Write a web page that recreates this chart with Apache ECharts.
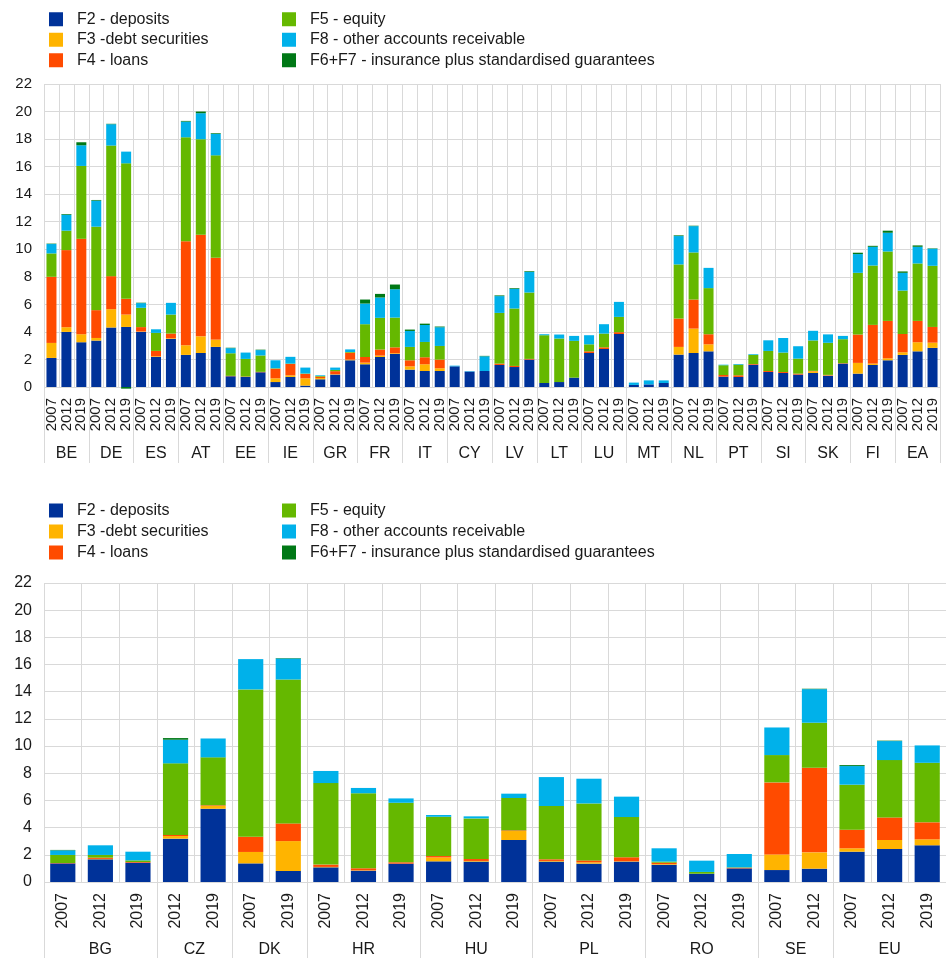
<!DOCTYPE html>
<html><head><meta charset="utf-8">
<script src="https://cdn.jsdelivr.net/npm/echarts@6/dist/echarts.min.js"></script>
<style>html,body{margin:0;padding:0;background:#fff}#c{width:946px;height:967px}</style>
</head><body><div id="c"></div>
<script>
const seriesNames = ['F2 - deposits','F3 -debt securities','F4 - loans','F5 - equity','F8 - other accounts receivable','F6+F7 - insurance plus standardised guarantees'];
const seriesColors = ['#003299','#ffb400','#ff4b00','#65b800','#00b1ea','#007816'];
const yTicks = [0,2,4,6,8,10,12,14,16,18,20,22];

// ---- Top panel (euro area countries) ----
const topGroups = ['BE','DE','ES','AT','EE','IE','GR','FR','IT','CY','LV','LT','LU','MT','NL','PT','SI','SK','FI','EA'];
const topYears = ['2007','2012','2019'];
const topDeposits = [2.11,4.0,3.25, 3.37,4.32,4.36, 4.0,2.18,3.49, 2.33,2.47,2.91, 0.78,0.73,1.07, 0.36,0.73,0.1, 0.56,0.9,1.94, 1.65,2.18,2.4, 1.26,1.16,1.16, 1.5,1.12,1.16, 1.6,1.45,1.99, 0.29,0.36,0.68, 2.47,2.76,3.85, 0.15,0.19,0.29, 2.35,2.47,2.59, 0.75,0.73,1.62, 1.09,1.02,0.9, 1.02,0.82,1.7, 0.97,1.6,1.94, 2.33,2.59,2.84];
const topDebt = [1.09,0.34,0.58, 0.19,1.33,0.9, 0.03,0.05,0.05, 0.7,1.21,0.53, 0,0,0, 0.27,0.12,0.53, 0.09,0.03,0.05, 0.12,0.1,0.05, 0.24,0.49,0.2, 0,0,0, 0,0,0, 0,0,0, 0,0,0, 0,0,0, 0.56,1.77,0.51, 0,0,0, 0,0,0, 0.12,0.03,0, 0.78,0.1,0.14, 0.19,0.66,0.38];
const topLoans = [4.8,5.6,6.93, 2.02,2.4,1.14, 0.32,0.39,0.34, 7.56,7.37,5.94, 0.03,0.03,0.03, 0.7,0.82,0.32, 0.1,0.22,0.5, 0.41,0.44,0.43, 0.44,0.51,0.63, 0,0,0, 0.1,0.08,0.05, 0,0,0, 0.12,0.12,0.13, 0,0,0, 2.06,2.11,0.73, 0.12,0.12,0.05, 0.07,0.07,0.07, 0.03,0.03,0.03, 2.06,2.81,2.72, 1.33,1.55,1.14];
const topEquity = [1.7,1.41,5.29, 6.06,9.48,9.84, 1.4,1.31,1.38, 7.54,6.94,7.44, 1.64,1.28,1.19, 0.03,0.03,0.03, 0.05,0.09,0.05, 2.38,2.3,2.16, 0.97,1.11,0.99, 0,0,0, 3.68,4.17,4.82, 3.47,3.16,2.67, 0.51,1.0,1.11, 0,0,0, 3.93,3.42,3.35, 0.71,0.77,0.66, 1.46,1.41,1.09, 2.21,2.33,1.74, 4.48,4.31,5.04, 3.15,4.17,4.44];
const topOther = [0.68,1.16,1.5, 1.89,1.55,0.85, 0.34,0.26,0.85, 1.14,1.89,1.56, 0.37,0.46,0.39, 0.58,0.49,0.43, 0.05,0.17,0.19, 1.5,1.48,2.06, 1.16,1.23,1.36, 0.05,0.03,1.07, 1.22,1.43,1.5, 0.07,0.29,0.36, 0.66,0.68,1.09, 0.17,0.29,0.19, 2.06,1.91,1.47, 0.04,0.05,0.05, 0.77,1.06,0.9, 0.7,0.61,0.24, 1.36,1.36,1.36, 1.29,1.21,1.24];
const topInsurance = [0.03,0.05,0.22, 0.05,0.03,-0.12, 0.03,0,0, 0.05,0.12,0.05, 0.03,0,0.03, 0,0,0, 0,0,0, 0.29,0.26,0.34, 0.1,0.1,0.05, 0,0,0.03, 0.05,0.05,0.05, 0,0,0, 0,0,0, 0,0,0, 0.05,0.03,0, 0,0,0, 0,0,0, 0,0,0, 0.1,0.07,0.15, 0.1,0.1,0.03];

// ---- Bottom panel (non-euro area countries) ----
const bottomGroups = ['BG','CZ','DK','HR','HU','PL','RO','SE','EU'];
const bottomGroupYears = [['2007','2012','2019'],['2012','2019'],['2007','2019'],['2007','2012','2019'],['2007','2012','2019'],['2007','2012','2019'],['2007','2012','2019'],['2007','2012'],['2007','2012','2019']];
const bottomDeposits = [1.37,1.67,1.42, 3.19,5.39, 1.37,0.81, 1.08,0.83,1.35, 1.52,1.5,3.09, 1.5,1.35,1.5, 1.27,0.61,1.0, 0.88,0.98, 2.23,2.43,2.7];
const bottomDebt = [0,0.03,0, 0.19,0.2, 0.84,2.2, 0.03,0.03,0, 0.29,0.05,0.66, 0.05,0.1,0.03, 0.05,0,0, 1.15,1.2, 0.25,0.66,0.44];
const bottomLoans = [0.03,0.09,0.05, 0.08,0.05, 1.12,1.3, 0.17,0.15,0.1, 0.1,0.14,0.05, 0.12,0.14,0.29, 0.1,0,0.05, 5.3,6.23, 1.37,1.66,1.25];
const bottomEquity = [0.59,0.2,0.12, 5.27,3.53, 10.84,10.59, 6.0,5.52,4.38, 2.89,2.99,2.38, 3.92,4.19,2.96, 0.08,0.13,0.03, 2.01,3.31, 3.31,4.22,4.38];
const bottomOther = [0.34,0.71,0.64, 1.74,1.39, 2.23,1.55, 0.89,0.39,0.32, 0.13,0.15,0.32, 2.13,1.82,1.5, 0.98,0.83,0.98, 2.03,2.47, 1.37,1.4,1.28];
const bottomInsurance = [0.03,0,0, 0.12,0, 0,0.03, 0,0,0, 0,0,0, 0,0,0, 0,0,0, 0,0.03, 0.07,0.03,0];

const FONT = 'Liberation Sans, Arial, Helvetica, sans-serif';
const TXT = '#1a1a1a';
const GRID_COLOR = '#d9d9d9';

function buildGroups(groups, yearsPerGroup) {
  const cats = [], bounds = [0], centers = [], names = {};
  let pos = 0;
  groups.forEach((g, i) => {
    const ys = yearsPerGroup[i];
    ys.forEach(y => cats.push(g + '|' + y));
    centers.push(pos + ys.length / 2);
    names[String(pos + ys.length / 2)] = g;
    pos += ys.length;
    bounds.push(pos);
  });
  return {cats, bounds, centers, names, n: pos};
}

const topG = buildGroups(topGroups, topGroups.map(() => topYears));
const botG = buildGroups(bottomGroups, bottomGroupYears);

const topData = [topDeposits, topDebt, topLoans, topEquity, topOther, topInsurance];
const botData = [bottomDeposits, bottomDebt, bottomLoans, bottomEquity, bottomOther, bottomInsurance];

const panels = [
  {g: topG, data: topData, top: 84, height: 303, right: 6, yFont: 15, yearFont: 15, groupFont: 16, groupMargin: 59},
  {g: botG, data: botData, top: 583, height: 299, right: 0, yFont: 16, yearFont: 16, groupFont: 16, groupMargin: 60}
];

const grid = [], xAxis = [], yAxis = [], series = [];
panels.forEach((p, pi) => {
  grid.push({left: 44, right: p.right, top: p.top, height: p.height, containLabel: false});
  xAxis.push({
    type: 'category', gridIndex: pi, data: p.g.cats, position: 'bottom',
    axisLine: {show: false}, axisTick: {show: false},
    axisLabel: {interval: 0, rotate: 90, margin: 11, fontSize: p.yearFont, fontFamily: FONT, color: TXT,
      formatter: v => v.split('|')[1]},
    splitLine: {show: true, interval: 0, lineStyle: {color: GRID_COLOR, width: 1}}
  });
  const names = p.g.names;
  xAxis.push({
    type: 'value', gridIndex: pi, position: 'bottom', min: 0, max: p.g.n, offset: 0,
    axisLine: {show: false}, splitLine: {show: false},
    axisTick: {show: true, length: 76, inside: false, customValues: p.g.bounds, lineStyle: {color: GRID_COLOR, width: 1}},
    axisLabel: {show: true, customValues: p.g.centers, margin: p.groupMargin, fontSize: p.groupFont, fontFamily: FONT, color: TXT,
      formatter: v => names[String(v)] || ''}
  });
  yAxis.push({
    type: 'value', gridIndex: pi, min: yTicks[0], max: yTicks[yTicks.length - 1], interval: 2,
    axisLine: {show: false}, axisTick: {show: false},
    axisLabel: {fontSize: p.yFont, fontFamily: FONT, color: TXT, margin: 12},
    splitLine: {show: true, lineStyle: {color: GRID_COLOR, width: 1}}
  });
  p.data.forEach((arr, si) => {
    series.push({
      name: seriesNames[si], type: 'bar', stack: 'panel' + pi,
      xAxisIndex: pi * 2, yAxisIndex: pi,
      data: arr, barCategoryGap: '33%', clip: false,
      itemStyle: {color: seriesColors[si]},
      emphasis: {disabled: true}, animation: false
    });
  });
});

function legend(left, top, names, size, font, lh, pad) {
  return {
    orient: 'vertical', left: left, top: top, data: names, icon: 'rect',
    itemWidth: size, itemHeight: size, itemGap: 0, selectedMode: false,
    textStyle: {fontSize: font, fontFamily: FONT, color: TXT, lineHeight: lh, padding: [0, 0, 0, pad]}
  };
}

const option = {
  backgroundColor: '#fff',
  animation: false,
  color: seriesColors,
  legend: [
    legend(44, 4, seriesNames.slice(0, 3), 14, 16, 20.5, 9),
    legend(277, 4, seriesNames.slice(3, 6), 14, 16, 20.5, 9),
    legend(44, 495, seriesNames.slice(0, 3), 14, 16, 21, 9),
    legend(277, 495, seriesNames.slice(3, 6), 14, 16, 21, 9)
  ],
  grid: grid, xAxis: xAxis, yAxis: yAxis, series: series
};
const chart = echarts.init(document.getElementById('c'), null, {renderer: 'canvas'});
chart.setOption(option);
</script></body></html>
